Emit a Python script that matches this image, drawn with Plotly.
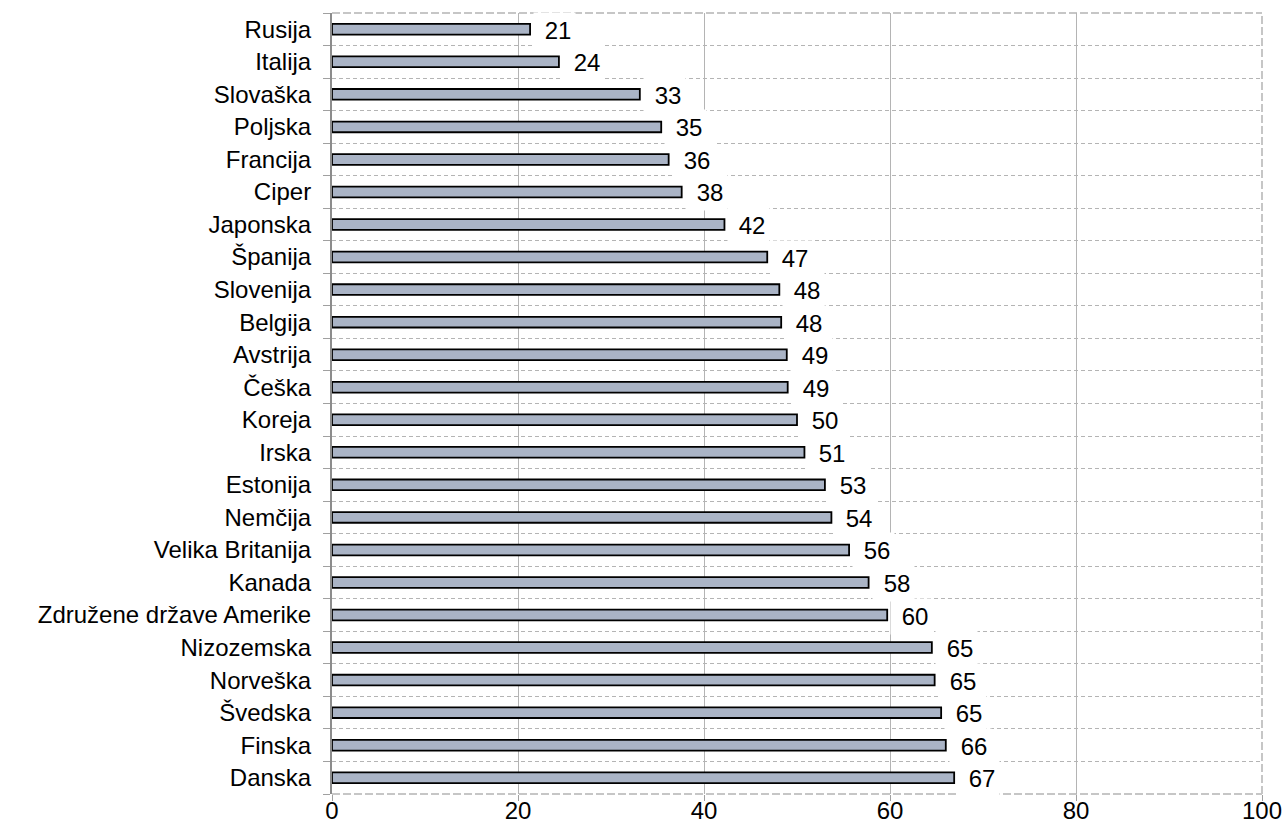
import plotly.graph_objects as go

countries = ["Rusija", "Italija", "Slovaška", "Poljska", "Francija", "Ciper", "Japonska",
             "Španija", "Slovenija", "Belgija", "Avstrija", "Češka", "Koreja", "Irska",
             "Estonija", "Nemčija", "Velika Britanija", "Kanada", "Združene države Amerike",
             "Nizozemska", "Norveška", "Švedska", "Finska", "Danska"]
values = [21.3, 24.4, 33.1, 35.4, 36.2, 37.6, 42.2, 46.8, 48.1, 48.3, 48.9, 49.0, 50.0,
          50.8, 53.0, 53.7, 55.6, 57.7, 59.7, 64.5, 64.8, 65.5, 66.0, 66.9]
labels = ["21", "24", "33", "35", "36", "38", "42", "47", "48", "48", "49", "49", "50",
          "51", "53", "54", "56", "58", "60", "65", "65", "65", "66", "67"]
x_ticks = [0, 20, 40, 60, 80, 100]

FONT = "Liberation Sans, Arial, sans-serif"
FS = 24
idx = list(range(len(countries)))

fig = go.Figure()
fig.add_trace(go.Bar(
    x=values, y=idx, orientation="h", width=0.33,
    marker=dict(color="#aab4c6", line=dict(color="#000000", width=1.8)),
    hoverinfo="x+y",
))

for i, (v, t) in enumerate(zip(values, labels)):
    fig.add_annotation(x=v, y=i, xref="x", yref="y", text="&nbsp;" + t, showarrow=False,
                       xanchor="left", yanchor="middle", xshift=3, yshift=-1,
                       bgcolor="white", borderpad=4,
                       font=dict(family=FONT, size=FS, color="black"))

fig.update_layout(
    width=1286, height=835,
    margin=dict(l=332, r=24, t=13, b=41, autoexpand=False),
    paper_bgcolor="white", plot_bgcolor="white",
    showlegend=False,
    font=dict(family=FONT, size=FS, color="black"),
    xaxis=dict(range=[0, 100], tickmode="array", tickvals=x_ticks,
               ticktext=[str(v) for v in x_ticks], automargin=False,
               showgrid=True, gridcolor="#b4b4b4", gridwidth=1,
               zeroline=False, showline=False,
               ticks="",
               minor=dict(tickmode="linear", tick0=0, dtick=20, ticks="outside",
                          ticklen=6, tickcolor="#a0a0a0", showgrid=False),
               tickfont=dict(family=FONT, size=FS, color="black")),
    yaxis=dict(range=[len(countries) - 0.5, -0.5], tickmode="array", tickvals=idx,
               ticktext=countries, showgrid=False, zeroline=False, automargin=False,
               showline=True, linecolor="#8c8c8c", linewidth=2,
               ticks="", ticklabelstandoff=14,
               tickfont=dict(family=FONT, size=FS, color="black"),
               minor=dict(tickmode="linear", tick0=0.5, dtick=1,
                          showgrid=True, gridcolor="#b4b4b4", griddash="4px,3px",
                          gridwidth=1, ticks="outside", ticklen=7,
                          tickcolor="#a0a0a0")),
)

# dashed plot-area borders (top, bottom, right)
for (x0, y0, x1, y1) in [(1, 0, 1, 1), (0, 1, 1, 1), (0, 0, 1, 0)]:
    fig.add_shape(type="line", xref="paper", yref="paper", x0=x0, y0=y0, x1=x1, y1=y1,
                  line=dict(color="white", width=2), layer="below")
    fig.add_shape(type="line", xref="paper", yref="paper", x0=x0, y0=y0, x1=x1, y1=y1,
                  line=dict(color="#b4b4b4", width=1.5, dash="8px,3px"), layer="below")

fig.write_html("out.html", config={"displayModeBar": False},
               post_script="document.body.style.margin='0';document.body.style.overflow='hidden';")
